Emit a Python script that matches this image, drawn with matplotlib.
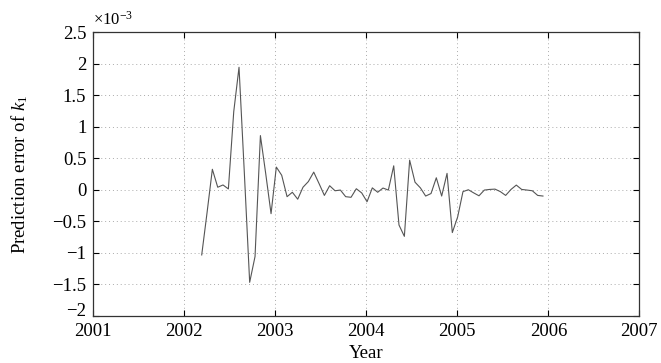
import numpy as np
import matplotlib
matplotlib.use("Agg")
import matplotlib.pyplot as plt

plt.rcParams['font.family'] = ['Liberation Serif', 'DejaVu Serif']
plt.rcParams['mathtext.fontset'] = 'custom'
plt.rcParams['mathtext.rm'] = 'Liberation Serif'
plt.rcParams['mathtext.it'] = 'Liberation Serif:italic'

# Time (years) of each prediction sample
years = [2002.191, 2002.250, 2002.308, 2002.367, 2002.425, 2002.484, 2002.543,
         2002.601, 2002.660, 2002.718, 2002.777, 2002.836, 2002.894, 2002.953,
         2003.011, 2003.070, 2003.129, 2003.187, 2003.246, 2003.304, 2003.363,
         2003.422, 2003.480, 2003.539, 2003.597, 2003.656, 2003.715, 2003.773,
         2003.832, 2003.890, 2003.949, 2004.008, 2004.066, 2004.125, 2004.183,
         2004.242, 2004.301, 2004.359, 2004.418, 2004.476, 2004.535, 2004.594,
         2004.652, 2004.711, 2004.769, 2004.828, 2004.887, 2004.945, 2005.004,
         2005.062, 2005.121, 2005.180, 2005.238, 2005.297, 2005.355, 2005.414,
         2005.473, 2005.531, 2005.590, 2005.648, 2005.707, 2005.766, 2005.824,
         2005.883, 2005.941]

# Prediction error of k1, in units of 1e-3
error_e3 = [-1.035, -0.36, 0.325, 0.04, 0.076, 0.013, 1.24,
            1.945, 0.25, -1.47, -1.06, 0.86, 0.26, -0.38,
            0.36, 0.23, -0.11, -0.04, -0.15, 0.04, 0.13,
            0.28, 0.10, -0.09, 0.064, -0.016, -0.005, -0.11,
            -0.12, 0.016, -0.05, -0.19, 0.03, -0.04, 0.027,
            -0.005, 0.38, -0.56, -0.74, 0.47, 0.12, 0.03,
            -0.10, -0.06, 0.19, -0.10, 0.26, -0.68, -0.43,
            -0.03, 0.0, -0.05, -0.096, -0.005, 0.005, 0.01,
            -0.03, -0.09, 0.005, 0.074, 0.005, -0.005, -0.016,
            -0.09, -0.10]

x_ticks = [2001, 2002, 2003, 2004, 2005, 2006, 2007]
y_ticks = [-2, -1.5, -1, -0.5, 0, 0.5, 1, 1.5, 2, 2.5]
y_ticklabels = ['\u22122', '\u22121.5', '\u22121', '\u22120.5', '0', '0.5', '1', '1.5', '2', '2.5']

fig = plt.figure(figsize=(6.61, 3.63), dpi=100)
ax = fig.add_axes([0.1412, 0.1303, 0.826, 0.7807])

ax.plot(years, error_e3, color='#555555', linewidth=0.8)

ax.set_xlim(2001, 2007)
ax.set_ylim(-2, 2.5)
ax.set_xticks(x_ticks)
ax.set_xticklabels([str(t) for t in x_ticks])
ax.set_yticks(y_ticks)
ax.set_yticklabels(y_ticklabels)

ax.grid(True, linestyle=(0, (1, 3)), color='#aaaaaa', linewidth=0.7)
ax.tick_params(direction='in', top=True, right=True, length=4, width=0.8,
               labelsize=13.5, colors='black')
ax.tick_params(axis='x', pad=5)
ax.tick_params(axis='y', pad=5)
# MATLAB-style: bottom y label sits slightly above the axis corner
ax.get_yticklabels()[0].set_va('baseline')
for s in ax.spines.values():
    s.set_linewidth(0.9)
    s.set_color('#333333')

ax.set_xlabel('Year', fontsize=13.5, labelpad=4)
ax.set_ylabel('Prediction error of $k_1$', fontsize=13.5, labelpad=16)
ax.text(0.0, 1.012, r'$\times10^{-3}$', transform=ax.transAxes, fontsize=12,
        ha='left', va='bottom')

fig.savefig('out.png', dpi=100)
